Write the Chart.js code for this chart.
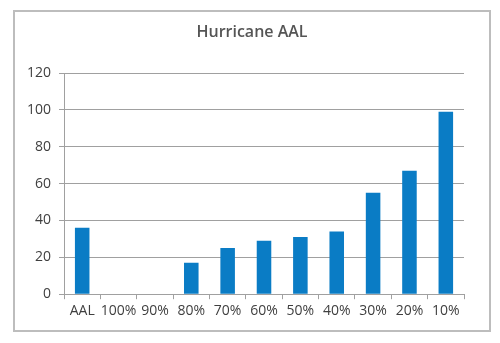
<!DOCTYPE html>
<html>
<head>
<meta charset="utf-8">
<script src="https://cdn.jsdelivr.net/npm/chart.js@4"></script>
<style>
  html, body { margin: 0; padding: 0; background: #fff; }
  #wrap { position: relative; width: 500px; height: 343px; }
  #frame {
    position: absolute; left: 13px; top: 10px; width: 474px; height: 318px;
    border: 2px solid #bdbdbd;
  }
  #myChart { position: absolute; left: 0; top: 0; }
</style>
</head>
<body>
<div id="wrap">
  <div id="frame"></div>
  <canvas id="myChart" width="500" height="343"></canvas>
</div>
<script>
const labels = ['AAL', '100%', '90%', '80%', '70%', '60%', '50%', '40%', '30%', '20%', '10%'];
const aalValues = [36, 0, 0, 17, 25, 29, 31, 34, 55, 67, 99];
const yTicks = [0, 20, 40, 60, 80, 100, 120];
const chartTitle = 'Hurricane AAL';

// title centred on the whole frame, not on the plot box
const frameTitle = {
  id: 'frameTitle',
  afterDraw(chart) {
    const c = chart.ctx;
    c.save();
    c.font = '600 16px "Open Sans"';
    c.fillStyle = '#555555';
    c.textAlign = 'center';
    c.textBaseline = 'middle';
    c.fillText(chartTitle, 252, 32);
    c.restore();
  }
};

const ctx = document.getElementById('myChart').getContext('2d');

new Chart(ctx, {
  type: 'bar',
  data: {
    labels: labels,
    datasets: [{
      label: chartTitle,
      data: aalValues,
      backgroundColor: '#0a7cc5',
      borderWidth: 0,
      barPercentage: 0.4,
      categoryPercentage: 1.0
    }]
  },
  options: {
    responsive: false,
    animation: false,
    layout: {
      padding: { left: 19, right: 36, top: 73, bottom: 21 }
    },
    plugins: {
      legend: { display: false },
      tooltip: { enabled: false },
      title: { display: false }
    },
    scales: {
      x: {
        grid: {
          drawOnChartArea: false,
          drawTicks: true,
          tickLength: 5,
          color: '#a0a0a0'
        },
        border: { display: true, color: '#a0a0a0' },
        ticks: {
          color: '#3f3f3f',
          font: { family: 'Open Sans', size: 14 },
          padding: 3,
          maxRotation: 0,
          autoSkip: false
        }
      },
      y: {
        min: 0,
        max: 120,
        afterBuildTicks: axis => { axis.ticks = yTicks.map(v => ({ value: v })); },
        grid: {
          color: '#a0a0a0',
          drawTicks: true,
          tickLength: 5
        },
        border: { display: true, color: '#a0a0a0' },
        ticks: {
          color: '#3f3f3f',
          font: { family: 'Open Sans', size: 14 },
          padding: 8
        }
      }
    }
  },
  plugins: [frameTitle]
});
</script>
</body>
</html>
